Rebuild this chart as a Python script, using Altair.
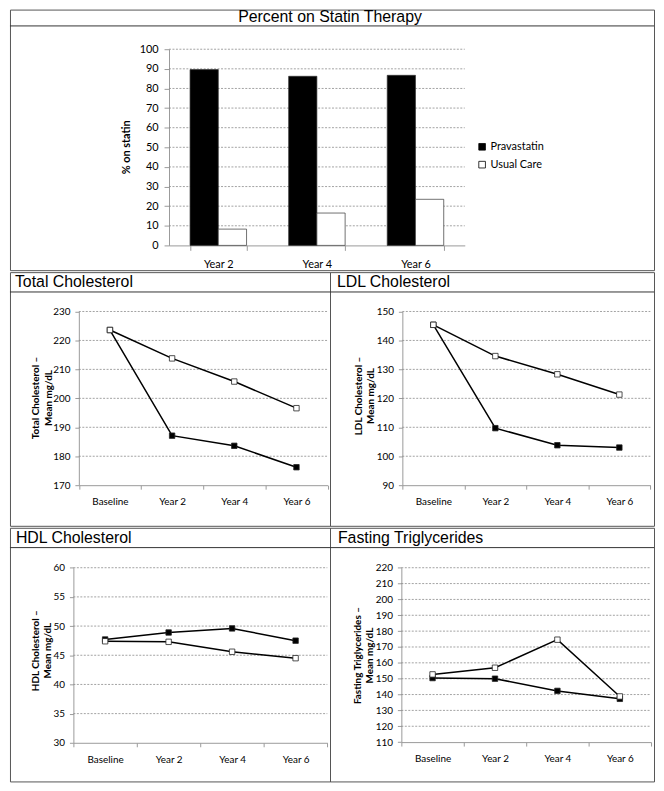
import altair as alt
import pandas as pd

# ---------------- data ----------------
groups = ["Pravastatin", "Usual Care"]

bar_years = ["Year 2", "Year 4", "Year 6"]
statin_prava = [89.6, 86.2, 86.7]
statin_usual = [8.3, 16.5, 23.5]

visits = ["Baseline", "Year 2", "Year 4", "Year 6"]
tc_prava = [223.6, 187.1, 183.6, 176.2]
tc_usual = [223.6, 213.8, 205.8, 196.6]
ldl_prava = [145.4, 109.7, 103.8, 103.0]
ldl_usual = [145.4, 134.6, 128.3, 121.3]
hdl_prava = [47.7, 48.9, 49.6, 47.5]
hdl_usual = [47.4, 47.3, 45.6, 44.5]
tg_prava = [150.4, 150.0, 142.3, 137.3]
tg_usual = [152.7, 156.9, 174.6, 138.8]

# ---------------- style ----------------
FONT = "Lato"
TFONT = "Liberation Sans"
GRID = "#8a8a8a"
AXC = "#9a9a9a"
BORDER = "#555555"
DARK = "#333333"


def one_row():
    return pd.DataFrame({"k": [0]})


def text_layer(txt, x, y, **kw):
    return alt.Chart(one_row()).mark_text(text=txt, **kw).encode(
        x=alt.value(x), y=alt.value(y))


def hline(y, x1, x2, color=DARK, width=1):
    return alt.Chart(one_row()).mark_rule(color=color, strokeWidth=width).encode(
        x=alt.value(x1), x2=alt.value(x2), y=alt.value(y))


# ---------------- top bar panel ----------------
W_TOP, H_TOP = 650, 263
bx = [160.5, 459]
by = [238, 40]

bar_df = pd.DataFrame({
    "year": bar_years * 2,
    "group": [g for g in groups for _ in bar_years],
    "val": statin_prava + statin_usual,
})
bar_ticks = list(range(0, 101, 10))
bar_grid = pd.DataFrame({"val": bar_ticks[1:]})

y_bar = alt.Y("val:Q", scale=alt.Scale(domain=[0, 100], range=by, nice=False, zero=True),
              axis=alt.Axis(values=bar_ticks, offset=-bx[0], grid=False, title=None,
                            domainColor=AXC, tickColor=AXC, tickSize=5, labelPadding=6,
                            labelFont=FONT, labelFontSize=11, labelColor="black"))
x_bar = alt.X("year:N", sort=bar_years,
              scale=alt.Scale(type="band", range=bx, paddingInner=0.427, paddingOuter=0.2135),
              axis=alt.Axis(title=None, labelAngle=0, offset=by[0] - H_TOP, tickBand="extent",
                            domainColor=AXC, tickColor=AXC, tickSize=5, labelPadding=8,
                            labelFont=FONT, labelFontSize=11, labelColor="black"))

bar_gridlines = alt.Chart(bar_grid).mark_rule(color=GRID, strokeDash=[2, 1.5], strokeWidth=0.8).encode(
    y=y_bar, x=alt.value(bx[0]), x2=alt.value(bx[1]))

bars = alt.Chart(bar_df).mark_bar(stroke=DARK, strokeWidth=0.7).encode(
    x=x_bar,
    xOffset=alt.XOffset("group:N", sort=groups, scale=alt.Scale(paddingInner=0, paddingOuter=0)),
    y=y_bar,
    fill=alt.Fill("group:N", sort=groups,
                  scale=alt.Scale(domain=groups, range=["black", "white"]),
                  legend=alt.Legend(orient="none", legendX=471, legendY=133, title=None,
                                    symbolType="square", symbolSize=45,
                                    symbolStrokeColor="black", symbolStrokeWidth=0.8,
                                    labelFont=FONT, labelFontSize=11, labelColor="black",
                                    rowPadding=6, labelOffset=3)),
)

top_panel = alt.layer(
    bar_gridlines,
    bars,
    hline(16.5, 0, W_TOP),
    text_layer("Percent on Statin Therapy", 323, 12.5, font=TFONT, fontSize=16,
               align="center", baseline="alphabetic", color="black"),
    text_layer("% on statin", 118, 139, font=FONT, fontSize=11, fontWeight="bold",
               angle=270, align="center", baseline="middle", color="black"),
).properties(width=W_TOP, height=H_TOP)


# ---------------- line panels ----------------
def line_panel(title, ytitle, prava, usual, dmin, dmax, step, w, h, xr, yr, tx, ytx, yty):
    df = pd.DataFrame({
        "visit": visits * 2,
        "group": [g for g in groups for _ in visits],
        "val": prava + usual,
    })
    ticks = list(range(dmin, dmax + 1, step))
    grid_df = pd.DataFrame({"val": ticks[1:]})
    yenc = alt.Y("val:Q", scale=alt.Scale(domain=[dmin, dmax], range=yr, nice=False, zero=False),
                 axis=alt.Axis(values=ticks, offset=-xr[0], grid=False, title=None,
                               domainColor=AXC, tickColor=AXC, tickSize=4, labelPadding=5,
                               labelFont=FONT, labelFontSize=10, labelColor="black"))
    xenc = alt.X("visit:N", sort=visits, bandPosition=0.5,
                 scale=alt.Scale(type="band", range=xr, paddingInner=0, paddingOuter=0),
                 axis=alt.Axis(title=None, labelAngle=0, offset=yr[0] - h, tickBand="extent",
                               domainColor=AXC, tickColor=AXC, tickSize=4, labelPadding=8,
                               labelFont=FONT, labelFontSize=10, labelColor="black"))
    gridl = alt.Chart(grid_df).mark_rule(color=GRID, strokeDash=[2, 1.5], strokeWidth=0.8).encode(
        y=yenc, x=alt.value(xr[0]), x2=alt.value(xr[1]))
    lines = alt.Chart(df).mark_line(color="black", strokeWidth=1.5).encode(
        x=xenc, y=yenc, detail="group:N")
    pts = alt.Chart(df).mark_point(shape="square", filled=True, size=30, stroke="#222",
                                   strokeWidth=0.8, opacity=1).encode(
        x=xenc, y=yenc,
        fill=alt.Fill("group:N", scale=alt.Scale(domain=groups, range=["black", "white"]),
                      legend=None))
    return alt.layer(
        gridl, lines, pts,
        hline(20, 0, w),
        text_layer(title, tx, 15, font=TFONT, fontSize=16, align="left",
                   baseline="alphabetic", color="black"),
        text_layer(ytitle, ytx, yty, font=FONT, fontSize=10, fontWeight="bold", angle=270,
                   align="center", baseline="middle", lineBreak="\n", lineHeight=12.5,
                   color="black"),
    ).properties(width=w, height=h)


WL, WR, HR = 323, 327, 256

tc = line_panel("Total Cholesterol", "Total Cholesterol –\nMean mg/dL", tc_prava, tc_usual,
                170, 230, 10, WL, HR, [69.5, 320.5], [215, 39.7], 5, 26.5, 127)
ldl = line_panel("LDL Cholesterol", "LDL Cholesterol –\nMean mg/dL", ldl_prava, ldl_usual,
                 90, 150, 10, WR, HR, [73, 323.3], [215, 39.7], 7, 29, 125)
hdl = line_panel("HDL Cholesterol", "HDL Cholesterol –\nMean mg/dL", hdl_prava, hdl_usual,
                 30, 60, 5, WL, HR, [64, 320.3], [217, 40.3], 6, 26, 124)
tg = line_panel("Fasting Triglycerides", "Fasting Triglycerides –\nMean mg/dL", tg_prava, tg_usual,
                110, 220, 10, WR, HR, [72, 324], [216.3, 40.3], 8, 28.3, 129)

row1 = alt.hconcat(tc, ldl, spacing=0, bounds="flush").resolve_scale(x="independent", y="independent", fill="independent")
row2 = alt.hconcat(hdl, tg, spacing=0, bounds="flush").resolve_scale(x="independent", y="independent", fill="independent")

chart = alt.vconcat(top_panel, row1, row2, spacing=0).resolve_scale(
    x="independent", y="independent", fill="independent"
).properties(
    padding={"left": 1, "top": -3, "right": 1, "bottom": 0},
    background="white",
).configure_view(
    stroke=BORDER, strokeWidth=1
).configure_concat(spacing=0)

chart.save("out.html", embed_options={"renderer": "svg", "actions": False})
